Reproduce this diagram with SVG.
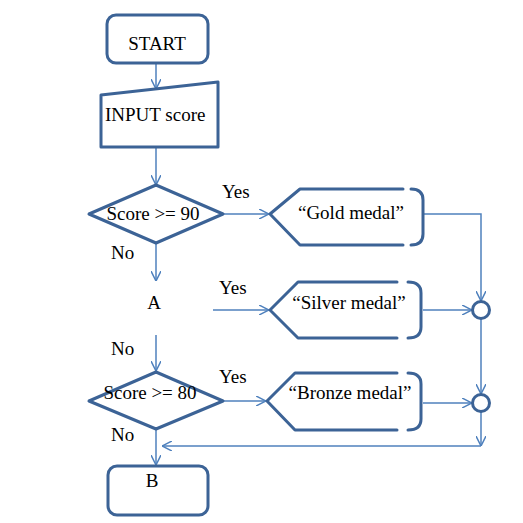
<svg xmlns="http://www.w3.org/2000/svg" width="523" height="523" viewBox="0 0 523 523">
<defs>
<marker id="ah" viewBox="0 0 10 10" refX="10" refY="5" markerWidth="10" markerHeight="10" markerUnits="userSpaceOnUse" orient="auto">
<path d="M0,0 L10,5 L0,10" fill="none" stroke="#4f81bd" stroke-width="1.5"/>
</marker>
<style>
.s{fill:#fff;stroke:#3c6396;stroke-width:3;stroke-linejoin:round;stroke-linecap:round}
.o{fill:none;stroke:#3c6396;stroke-width:3;stroke-linejoin:round;stroke-linecap:round}
.c{fill:none;stroke:#4f81bd;stroke-width:1.5}
.a{marker-end:url(#ah)}
.t{font-size:19px;fill:#000}
</style>
</defs>
<rect width="523" height="523" fill="#fff"/>
<g id="connectors">
<line class="c a" x1="156" y1="63" x2="156" y2="89"/>
<line class="c a" x1="156" y1="147" x2="156" y2="185"/>
<line class="c a" x1="223" y1="214" x2="269" y2="214"/>
<line class="c a" x1="156" y1="243" x2="156" y2="281"/>
<line class="c a" x1="213" y1="310" x2="269" y2="310"/>
<line class="c a" x1="156" y1="335" x2="156" y2="371"/>
<line class="c a" x1="223" y1="401" x2="266" y2="401"/>
<line class="c a" x1="156" y1="429" x2="156" y2="465"/>
<polyline class="c a" points="423,214 481,214 481,301"/>
<line class="c a" x1="423" y1="310" x2="472" y2="310"/>
<line class="c a" x1="481" y1="319" x2="481" y2="394"/>
<line class="c a" x1="423" y1="403" x2="472" y2="403"/>
<line class="c a" x1="481" y1="412" x2="481" y2="446"/>
<line class="c a" x1="481" y1="446" x2="162" y2="446"/>
</g>
<g font-family="Liberation Serif, Times New Roman, serif">
<g id="start">
<rect class="s" x="107" y="15" width="101" height="48" rx="9"/>
<text class="t" x="157" y="50" text-anchor="middle">START</text>
</g>
<g id="input">
<polygon class="s" points="101,95 218,82 218,147 101,147"/>
<text class="t" x="105" y="121">INPUT score</text>
</g>
<g id="decision90">
<polygon class="s" points="89,214 156,185 223,214 156,243"/>
<text class="t" x="153" y="220" text-anchor="middle">Score &gt;= 90</text>
<text class="t" x="222" y="198">Yes</text>
<text class="t" x="111" y="259">No</text>
</g>
<g id="gold">
<path class="o" d="M403,189 L300,189 L270,214 L300,245 L403,245"/>
<path class="o" d="M411,189 Q423,189 423,200 L423,234 Q423,245 411,245"/>
<text class="t" x="351" y="219" text-anchor="middle">“Gold medal”</text>
</g>
<g id="a">
<text class="t" x="154" y="309" text-anchor="middle">A</text>
<text class="t" x="219" y="294">Yes</text>
</g>
<g id="silver">
<path class="o" d="M397,282 L298,282 L270,310 L298,338 L397,338"/>
<path class="o" d="M408,282 Q421,282 421,293 L421,327 Q421,338 408,338"/>
<text class="t" x="349" y="309" text-anchor="middle">“Silver medal”</text>
</g>
<g id="join1">
<circle class="s" cx="481" cy="310" r="8.5"/>
</g>
<g id="decision80">
<text class="t" x="111" y="355">No</text>
<polygon class="s" points="89,401 156,372 223,401 156,429"/>
<text class="t" x="150" y="399" text-anchor="middle">Score &gt;= 80</text>
<text class="t" x="219" y="383">Yes</text>
<text class="t" x="111" y="441">No</text>
</g>
<g id="bronze">
<path class="o" d="M397,373 L295,373 L267,401 L295,430 L397,430"/>
<path class="o" d="M408,373 Q421,373 421,384 L421,419 Q421,430 408,430"/>
<text class="t" x="350" y="399" text-anchor="middle">“Bronze medal”</text>
</g>
<g id="join2">
<circle class="s" cx="481" cy="403" r="8.5"/>
</g>
<g id="b">
<rect class="s" x="108" y="466" width="100" height="49" rx="9"/>
<text class="t" x="152" y="487" text-anchor="middle">B</text>
</g>
</g>
</svg>
